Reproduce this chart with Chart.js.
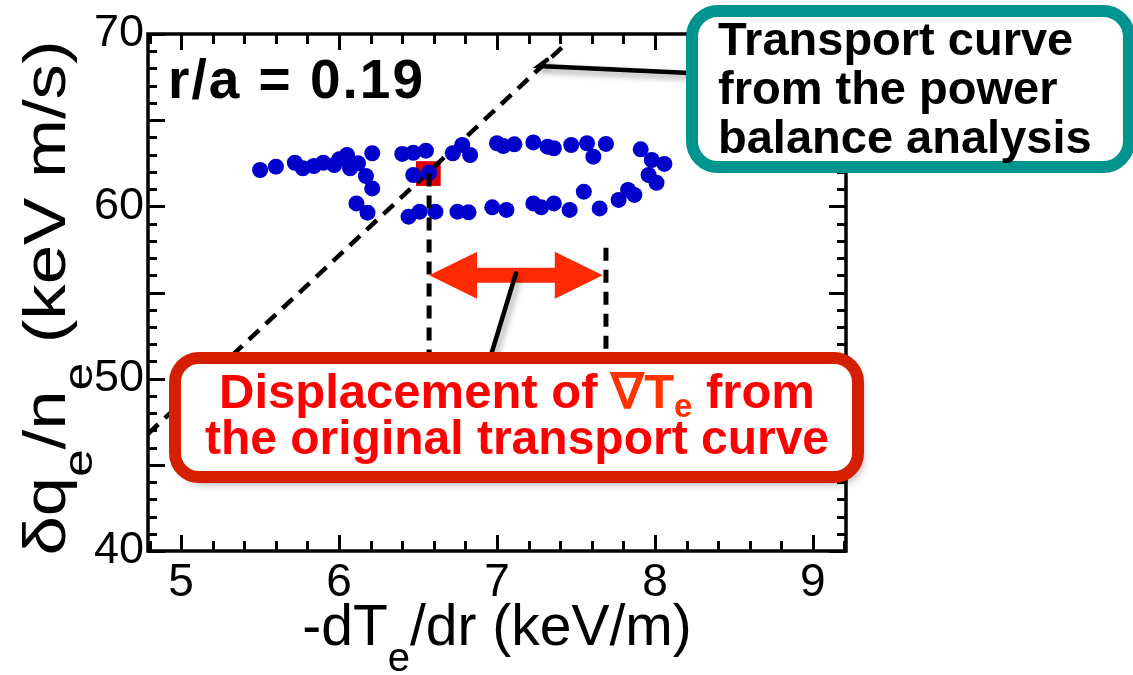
<!DOCTYPE html>
<html>
<head>
<meta charset="utf-8">
<script src="https://cdn.jsdelivr.net/npm/chart.js@4.4.1/dist/chart.umd.min.js"></script>
<style>
  html, body { margin: 0; padding: 0; background: #ffffff; }
  canvas { display: block; }
</style>
</head>
<body>
<canvas id="chart" width="1133" height="675" style="width:1133px;height:675px"></canvas>
<script>
// Electron heat flux vs. temperature gradient during the modulation cycle (r/a = 0.19)
const gradTe = [5.50, 5.60, 5.72, 5.77, 5.84, 5.90, 5.97, 6.00, 6.05, 6.07, 6.12, 6.17, 6.21, 6.21,
                6.11, 6.18, 6.40, 6.47, 6.55, 6.47, 6.57, 6.44, 6.51, 6.61, 6.72, 6.75, 6.78, 6.83,
                7.00, 7.04, 7.11, 7.23, 7.32, 7.36, 7.47, 7.57, 7.61, 7.69, 7.91, 7.98, 8.06, 7.96,
                8.01, 6.82, 6.97, 7.06, 7.23, 7.28, 7.36, 7.46, 7.55, 7.65, 7.77, 7.83, 7.87];
const fluxQe = [62.11, 62.30, 62.53, 62.21, 62.34, 62.53, 62.40, 62.73, 62.98, 62.21, 62.50, 61.76, 61.04, 63.08,
                60.17, 59.63, 63.04, 63.11, 63.23, 61.82, 61.95, 59.40, 59.69, 59.69, 63.08, 59.69, 63.56, 62.98,
                63.66, 63.50, 63.60, 63.71, 63.46, 63.37, 63.56, 63.66, 62.88, 63.62, 63.31, 62.69, 62.46, 61.82,
                61.37, 59.65, 59.94, 59.79, 60.17, 59.94, 60.17, 59.79, 60.85, 59.88, 60.37, 60.95, 60.66];

// Power balance operating point
const balanceX = [6.565];
const balanceY = [61.9];

// Transport curve from the power balance analysis
const curveX = [4.79, 7.45];
const curveY = [46.8, 69.55];

// Displacement of grad Te: vertical markers and the double arrow between them
const markX = [6.57, 7.69];
const markTop = [61.9, 57.6];
const markBottom = [50, 50];
const arrowX = [6.57, 7.67];
const arrowY = 56.0;

// Axis ticks
const xTicks = [5, 6, 7, 8, 9];
const yTicks = [40, 50, 60, 70];
const xRange = [4.79, 9.21];
const yRange = [40, 70];

const SANS = '"Liberation Sans", Arial, Helvetica, sans-serif';

function pts(xs, ys) { return xs.map((v, i) => ({ x: v, y: ys[i] })); }

// Measures / draws a run of text pieces (with subscripts) on a common baseline
function richWidth(ctx, parts) {
  let w = 0;
  for (const p of parts) { ctx.font = p.font; w += ctx.measureText(p.t).width; }
  return w;
}
function drawRich(ctx, parts, x, y, align) {
  let cx = x;
  const w = richWidth(ctx, parts);
  if (align === 'center') cx = x - w / 2;
  ctx.textAlign = 'left';
  ctx.textBaseline = 'alphabetic';
  for (const p of parts) {
    ctx.font = p.font;
    ctx.fillStyle = p.color || '#000';
    ctx.fillText(p.t, cx, y + (p.dy || 0));
    cx += ctx.measureText(p.t).width;
  }
}

function roundBox(ctx, x, y, w, h, r) {
  ctx.beginPath();
  ctx.moveTo(x + r, y);
  ctx.lineTo(x + w - r, y);
  ctx.arcTo(x + w, y, x + w, y + r, r);
  ctx.lineTo(x + w, y + h - r);
  ctx.arcTo(x + w, y + h, x + w - r, y + h, r);
  ctx.lineTo(x + r, y + h);
  ctx.arcTo(x, y + h, x, y + h - r, r);
  ctx.lineTo(x, y + r);
  ctx.arcTo(x, y, x + r, y, r);
  ctx.closePath();
}

// Closed frame with inward ticks on all four sides
const framePlugin = {
  id: 'frame',
  afterDatasetsDraw(chart) {
    const { ctx, chartArea: a, scales: { x, y } } = chart;
    ctx.save();
    ctx.strokeStyle = '#000';
    ctx.lineWidth = 3;
    ctx.lineCap = 'butt';
    ctx.beginPath();
    for (let k = 24; k <= 46; k++) {
      const v = k / 5;
      const px = Math.round(x.getPixelForValue(v)) + 0.5;
      const len = (k % 5 === 0) ? 16 : 10;
      ctx.moveTo(px, a.bottom); ctx.lineTo(px, a.bottom - len);
      ctx.moveTo(px, a.top); ctx.lineTo(px, a.top + len);
    }
    for (let v = yRange[0]; v <= yRange[1]; v++) {
      const py = Math.round(y.getPixelForValue(v)) + 0.5;
      const len = (v % 5 === 0) ? 17 : 9;
      ctx.moveTo(a.left, py); ctx.lineTo(a.left + len, py);
      ctx.moveTo(a.right, py); ctx.lineTo(a.right - len, py);
    }
    ctx.stroke();
    ctx.lineWidth = 3.5;
    ctx.strokeRect(a.left, a.top, a.right - a.left, a.bottom - a.top);
    ctx.restore();
  }
};

// Axis titles, panel label, arrow and callouts
const notesPlugin = {
  id: 'notes',
  afterDraw(chart) {
    const { ctx, scales: { x, y } } = chart;
    ctx.save();

    // panel label
    ctx.save();
    ctx.fillStyle = '#000';
    ctx.font = 'bold 55px ' + SANS;
    ctx.letterSpacing = '2px';
    ctx.textAlign = 'left';
    ctx.textBaseline = 'alphabetic';
    ctx.fillText('r/a = 0.19', 168, 98);
    ctx.restore();

    // x-axis title
    const big = '57px ' + SANS, sub = '40px ' + SANS;
    drawRich(ctx, [
      { t: '-dT', font: big },
      { t: 'e', font: sub, dy: 26 },
      { t: '/dr (keV/m)', font: big }
    ], 497, 645, 'center');

    // y-axis title (rotated, a little stretched along its length)
    ctx.save();
    ctx.translate(65, 298);
    ctx.rotate(-Math.PI / 2);
    ctx.scale(1.2, 1);
    const ybig = '59px ' + SANS, ysub = '41px ' + SANS;
    drawRich(ctx, [
      { t: '\u03B4q', font: ybig },
      { t: 'e', font: ysub, dy: 27 },
      { t: '/n', font: ybig },
      { t: 'e', font: ysub, dy: 27 },
      { t: ' (keV m/s)', font: ybig }
    ], 0, 0, 'center');
    ctx.restore();

    // double arrow showing the displacement
    const x1 = x.getPixelForValue(arrowX[0]);
    const x2 = x.getPixelForValue(arrowX[1]);
    const ya = y.getPixelForValue(arrowY);
    const head = 48, hw = 23.5, sw = 7.5;
    ctx.fillStyle = '#FF2A00';
    ctx.beginPath();
    ctx.moveTo(x1, ya);
    ctx.lineTo(x1 + head, ya - hw);
    ctx.lineTo(x1 + head, ya - sw);
    ctx.lineTo(x2 - head, ya - sw);
    ctx.lineTo(x2 - head, ya - hw);
    ctx.lineTo(x2, ya);
    ctx.lineTo(x2 - head, ya + hw);
    ctx.lineTo(x2 - head, ya + sw);
    ctx.lineTo(x1 + head, ya + sw);
    ctx.lineTo(x1 + head, ya + hw);
    ctx.closePath();
    ctx.fill();

    // leader lines with soft shadows
    ctx.save();
    ctx.shadowColor = 'rgba(0,0,0,0.35)';
    ctx.shadowBlur = 6;
    ctx.shadowOffsetX = 3;
    ctx.shadowOffsetY = 4;
    ctx.strokeStyle = '#000';
    ctx.lineWidth = 4.5;
    ctx.lineCap = 'round';
    const mx = (x1 + x2) / 2;
    ctx.beginPath();
    ctx.moveTo(mx, ya - 2);
    ctx.lineTo(488, 365);
    ctx.stroke();
    ctx.beginPath();
    ctx.moveTo(547, 60);
    ctx.lineTo(539, 66);
    ctx.lineTo(690, 73);
    ctx.stroke();
    ctx.restore();

    // red callout box
    ctx.save();
    ctx.shadowColor = 'rgba(0,0,0,0.4)';
    ctx.shadowBlur = 10;
    ctx.shadowOffsetX = 4;
    ctx.shadowOffsetY = 6;
    roundBox(ctx, 175, 358, 683, 119, 24);
    ctx.fillStyle = '#ffffff';
    ctx.fill();
    ctx.restore();
    roundBox(ctx, 175, 358, 683, 119, 24);
    ctx.lineWidth = 12;
    ctx.strokeStyle = '#D42000';
    ctx.stroke();
    const bf = 'bold 49px ' + SANS, bs = 'bold 33px ' + SANS;
    drawRich(ctx, [
      { t: 'Displacement of ', font: bf, color: '#FF0000' },
      { t: '\u2207T', font: bf, color: '#FF3300' },
      { t: 'e', font: bs, color: '#FF3300', dy: 9 },
      { t: ' from', font: bf, color: '#FF0000' }
    ], 517, 408, 'center');
    drawRich(ctx, [
      { t: 'the original transport curve', font: 'bold 48px ' + SANS, color: '#FF0000' }
    ], 517, 454, 'center');

    // teal callout box
    roundBox(ctx, 692, 11, 437, 156, 26);
    ctx.fillStyle = '#ffffff';
    ctx.fill();
    ctx.lineWidth = 12;
    ctx.strokeStyle = '#00948F';
    ctx.stroke();
    ctx.fillStyle = '#000';
    ctx.font = 'bold 47px ' + SANS;
    ctx.textAlign = 'left';
    ctx.fillText('Transport curve', 718, 55);
    ctx.fillText('from the power', 718, 104);
    ctx.fillText('balance analysis', 718, 153);

    ctx.restore();
  }
};

new Chart(document.getElementById('chart'), {
  type: 'scatter',
  data: {
    datasets: [
      {
        label: 'displacement markers (left)',
        type: 'line',
        data: pts([markX[0], markX[0]], [markTop[0], markBottom[0]]),
        borderColor: '#000', borderWidth: 5, borderDash: [13, 9],
        pointRadius: 0, fill: false, order: 1
      },
      {
        label: 'displacement markers (right)',
        type: 'line',
        data: pts([markX[1], markX[1]], [markTop[1], markBottom[1]]),
        borderColor: '#000', borderWidth: 5, borderDash: [13, 9],
        pointRadius: 0, fill: false, order: 1
      },
      {
        label: 'modulation data',
        data: pts(gradTe, fluxQe),
        backgroundColor: '#0000CC', borderWidth: 0,
        pointRadius: 8, pointHoverRadius: 8, order: 3
      },
      {
        label: 'transport curve',
        type: 'line',
        data: pts(curveX, curveY),
        borderColor: '#000', borderWidth: 4.5, borderDash: [14, 9],
        pointRadius: 0, fill: false, order: 4
      },
      {
        label: 'power balance point',
        data: pts(balanceX, balanceY),
        pointStyle: 'rect', backgroundColor: '#DD0000', borderWidth: 0,
        pointRadius: 17.5, pointHoverRadius: 17.5, order: 5
      }
    ]
  },
  options: {
    responsive: false,
    animation: false,
    devicePixelRatio: 1,
    layout: { padding: { left: 0, top: 34, right: 287, bottom: 0 } },
    plugins: { legend: { display: false }, tooltip: { enabled: false } },
    scales: {
      x: {
        type: 'linear', min: xRange[0], max: xRange[1],
        grid: { display: false, drawTicks: false },
        border: { display: false },
        afterBuildTicks: s => { s.ticks = xTicks.map(v => ({ value: v })); },
        afterFit: s => { s.height = 124; },
        ticks: { color: '#000', padding: 5, font: { family: SANS, size: 46 } }
      },
      y: {
        type: 'linear', min: yRange[0], max: yRange[1],
        grid: { display: false, drawTicks: false },
        border: { display: false },
        afterBuildTicks: s => { s.ticks = yTicks.map(v => ({ value: v })); },
        afterFit: s => { s.width = 148; },
        ticks: { color: '#000', padding: 4, font: { family: SANS, size: 45 } }
      }
    }
  },
  plugins: [framePlugin, notesPlugin]
});
</script>
</body>
</html>
